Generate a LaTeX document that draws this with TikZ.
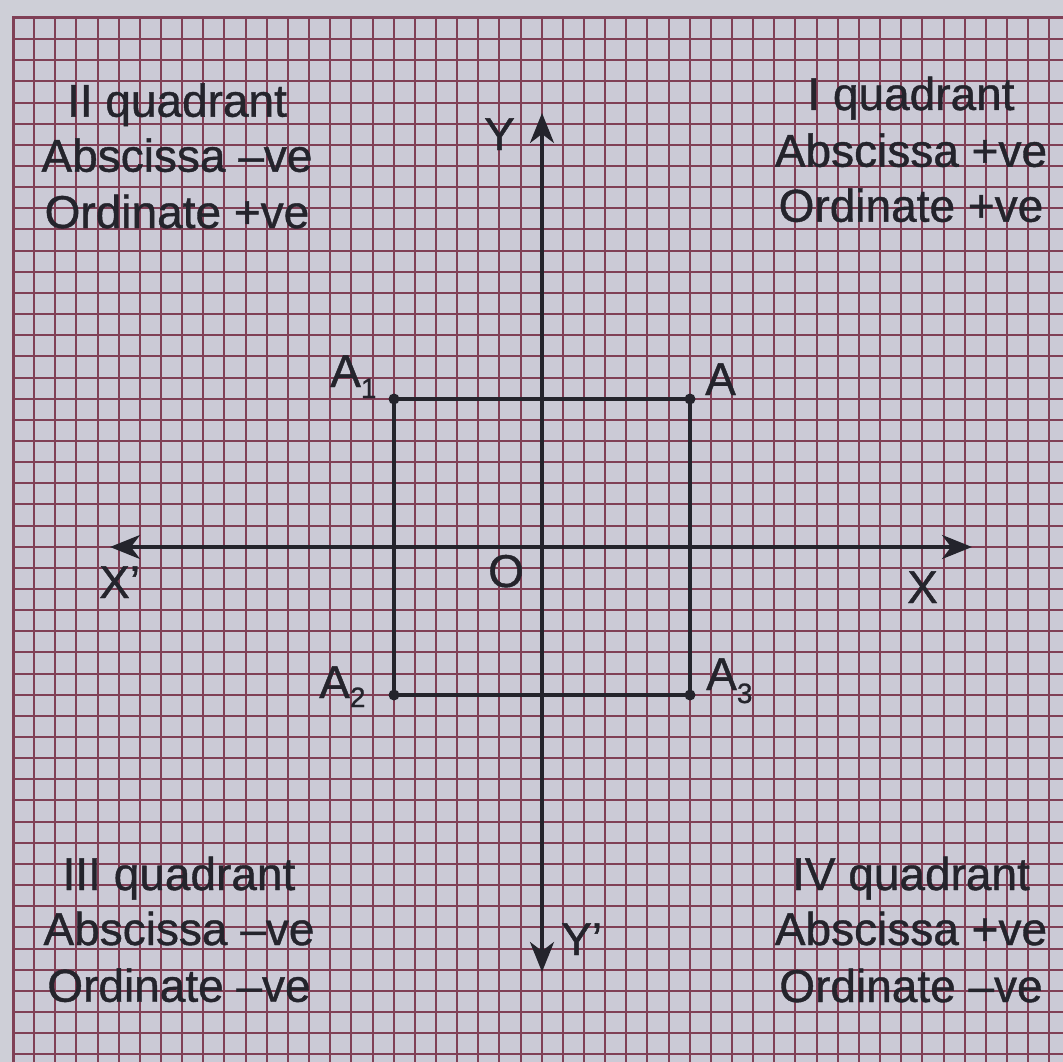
\documentclass[tikz,border=0pt]{standalone}
\usepackage{fontspec}
\setmainfont{Liberation Sans}[FakeBold=0.9]
\usetikzlibrary{arrows.meta}
\definecolor{paper}{RGB}{203,202,214}
\definecolor{outside}{RGB}{206,207,215}
\definecolor{gridc}{RGB}{128,64,86}
\definecolor{ink}{RGB}{36,36,44}
\tikzset{
  gridline/.style={draw=gridc, line width=2pt},
  borderline/.style={draw=gridc, line width=3pt},
  axisline/.style={draw=ink, line width=3.6pt, -{Stealth[length=30pt,width=24pt,inset=9pt]}},
  sqline/.style={draw=ink, line width=3.2pt},
  dot/.style={circle, fill=ink, inner sep=0pt, minimum size=11pt},
  txt/.style={text=ink, font=\fontsize{46}{55}\selectfont, inner sep=0pt},
  lbl/.style={txt, anchor=base west},
  qtxt/.style={txt, anchor=base}
}
\newcommand{\sbs}[2]{\raisebox{-#2}{\fontsize{28}{28}\selectfont #1}}
\begin{document}
\begin{tikzpicture}[x=1pt,y=-1pt]
\useasboundingbox (0,0) rectangle (1063,1062);
\fill[outside] (0,0) rectangle (1063,1062);
\fill[paper] (13,18) rectangle (1063,1062);
% grid
\foreach \k in {-24,...,24} {
  \pgfmathsetmacro\gx{round(541.7+21.15*\k)}
  \pgfmathsetmacro\gy{round(546.7+21.15*\k)}
  \draw[gridline] (\gx,18) -- (\gx,1062);
  \draw[gridline] (13,\gy) -- (1063,\gy);
}
\draw[borderline] (13,1062) -- (13,18) -- (1063,18);
% axes
\coordinate (o) at (542,547);
\coordinate (xl) at (110,547);
\coordinate (xr) at (972,547);
\coordinate (yt) at (542,113);
\coordinate (yb) at (542,972);
\draw[axisline] (o) -- (xl);
\draw[axisline] (o) -- (xr);
\draw[axisline] (o) -- (yt);
\draw[axisline] (o) -- (yb);
% square
\node[dot] (A)  at (690,399) {};
\node[dot] (A1) at (394,399) {};
\node[dot] (A2) at (394,695) {};
\node[dot] (A3) at (690,695) {};
\draw[sqline] (A1.center) -- (A.center) -- (A3.center) -- (A2.center) -- cycle;
% point labels
\node[lbl] (lA)  at (705,395) {A};
\node[lbl] (lA1) at (330,387) {A\sbs{1}{11pt}};
\node[lbl] (lA2) at (319,698) {A\sbs{2}{9pt}};
\node[lbl] (lA3) at (706,690) {A\sbs{3}{13pt}};
\node[lbl] (lO)  at (488,587) {O};
\node[lbl] (lX1) at (99,598) {X’};
\node[lbl] (lX)  at (907,603) {X};
\node[lbl] (lY)  at (484,150) {Y};
\node[lbl] (lY1) at (561,955) {Y’};
% quadrant texts
\node[qtxt] (q2a) at (177,116.7) {II quadrant};
\node[qtxt] (q2b) at (177,171.7) {Abscissa –ve};
\node[qtxt] (q2c) at (177,228) {Ordinate +ve};
\node[qtxt] (q1a) at (911,110) {I quadrant};
\node[qtxt] (q1b) at (911,166.7) {Abscissa +ve};
\node[qtxt] (q1c) at (911,221.7) {Ordinate +ve};
\node[qtxt] (q3a) at (179,890) {III quadrant};
\node[qtxt] (q3b) at (179,945) {Abscissa –ve};
\node[qtxt] (q3c) at (179,1001.7) {Ordinate –ve};
\node[qtxt] (q4a) at (911,890) {IV quadrant};
\node[qtxt] (q4b) at (911,945) {Abscissa +ve};
\node[qtxt] (q4c) at (911,1002) {Ordinate –ve};
\end{tikzpicture}
\end{document}
